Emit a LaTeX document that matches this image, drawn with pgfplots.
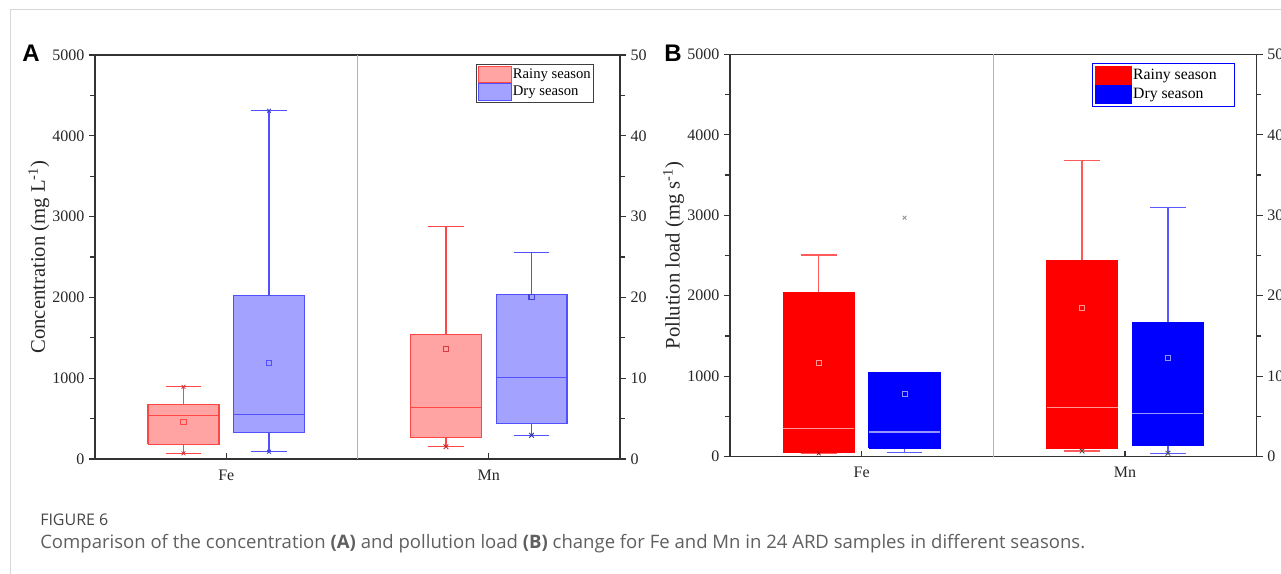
\documentclass[border=0pt]{standalone}
\usepackage{pgfplots}
\pgfplotsset{compat=1.18}
\usepackage{fontspec}
\setmainfont{Liberation Serif}
\newfontfamily\capfont{Open Sans}
\newfontfamily\letterfont{Liberation Sans}
\definecolor{rfillA}{RGB}{255,163,163}
\definecolor{rdrawA}{RGB}{255,70,70}
\definecolor{bfillA}{RGB}{163,163,255}
\definecolor{bdrawA}{RGB}{80,80,255}
\definecolor{rB}{RGB}{255,0,0}
\definecolor{bB}{RGB}{0,0,255}
\definecolor{rlightB}{RGB}{255,150,150}
\definecolor{blightB}{RGB}{150,150,255}
\definecolor{rwhB}{RGB}{255,90,90}
\definecolor{bwhB}{RGB}{90,90,255}
\definecolor{capgray}{RGB}{95,95,95}
\definecolor{figgray}{RGB}{70,70,70}
\definecolor{divgray}{RGB}{180,180,180}
\definecolor{framegray}{RGB}{215,215,215}
% whisker: x, capL, capR, from, to, style
\newcommand{\whisk}[6]{\addplot[#6] coordinates {(#1,#4) (#1,#5)};\addplot[#6] coordinates {(#2,#5) (#3,#5)};}
% box: L, R, q1, q3, style
\newcommand{\boxr}[5]{\addplot[#5] coordinates {(#1,#3) (#2,#3) (#2,#4) (#1,#4) (#1,#3)};}
% median: L, R, m, style
\newcommand{\medl}[4]{\addplot[#4] coordinates {(#1,#3) (#2,#3)};}
\pgfplotsset{
  panel/.style={
    scale only axis, anchor=south west,
    xmin=0.5, xmax=2.5, ymin=0,
    /pgf/number format/assume math mode=true,
    /pgf/number format/1000 sep={},
    scaled y ticks=false,
    tick label style={font=\fontsize{12}{13}\selectfont, text=black!85},
    axis line style={line width=1.1pt, black!80},
    major tick length=4.5pt, minor tick length=3.5pt,
    tick style={line width=1pt, black!80},
    minor y tick num=1,
    clip=false,
  },
  leftax/.style={panel, ymax=5000, ytick={0,1000,...,5000},
    ytick pos=left, xtick pos=bottom, xtick={1,2}, xticklabels={Fe,Mn},
    xtick align=inside, ytick align=outside,
    x tick label style={yshift=-4.5pt},
    every axis y label/.style={at={(axis description cs:-0.107,0.5)}, rotate=90, anchor=center,
      font=\fontsize{15.5}{17}\selectfont, text=black!85},
  },
  rightax/.style={panel, ymax=50, ytick={0,10,...,50}, xtick=\empty,
    axis y line*=right, axis x line=none, ytick align=outside,
    legend image code/.code={\draw[##1, line width=0.8pt] (0pt,-6.2pt) rectangle (24.75pt,6.2pt);},
    legend cell align=left,
    legend style={font=\fontsize{11}{12}\selectfont, anchor=north east,
      nodes={inner sep=0.9pt}, row sep=0pt, inner sep=1pt},
  },
  lA/.style={line width=0.9pt, line join=miter},
}
\begin{document}
\begin{tikzpicture}
\path[use as bounding box] (0pt,0pt) rectangle (960.75pt,430.5pt);
\draw[framegray, line width=0.75pt] (7.5pt,0pt) -- (7.5pt,423pt) -- (960.75pt,423pt);

% ---------------- Panel A ----------------
\begin{axis}[leftax, at={(71.25pt,86.25pt)}, width=393.75pt, height=303pt,
  ylabel={Concentration (mg L\textsuperscript{-1})}]
\draw[divgray, line width=1pt] (axis cs:1.5,0) -- (axis cs:1.5,5000);
% Fe rainy
\whisk{0.837}{0.7695}{0.9045}{679}{893}{lA, draw=rdrawA}
\whisk{0.837}{0.7695}{0.9045}{181}{70}{lA, draw=rdrawA}
\boxr{0.702}{0.972}{181}{679}{lA, draw=rdrawA, fill=rfillA}
\medl{0.702}{0.972}{540}{lA, draw=rdrawA}
% Fe dry
\whisk{1.163}{1.0955}{1.2305}{2025}{4310}{lA, draw=bdrawA}
\whisk{1.163}{1.0955}{1.2305}{325}{90}{lA, draw=bdrawA}
\boxr{1.028}{1.298}{325}{2025}{lA, draw=bdrawA, fill=bfillA}
\medl{1.028}{1.298}{547}{lA, draw=bdrawA}
\addplot[only marks, mark=square, mark size=1.9pt, draw=rdrawA, line width=0.7pt] coordinates {(0.837,453)};
\addplot[only marks, mark=square, mark size=1.9pt, draw=bdrawA, line width=0.7pt] coordinates {(1.163,1189)};
\addplot[only marks, mark=x, mark size=2pt, draw=rdrawA!80!black, line width=0.6pt] coordinates {(0.837,70) (0.837,893)};
\addplot[only marks, mark=x, mark size=2pt, draw=bdrawA!80!black, line width=0.6pt] coordinates {(1.163,90) (1.163,4310)};
\end{axis}
\begin{axis}[rightax, at={(71.25pt,86.25pt)}, width=393.75pt, height=303pt,
  legend style={at={(0.950,0.978)}, draw=black!75, line width=0.8pt}]
\addlegendimage{draw=rdrawA, fill=rfillA}
\addlegendentry{Rainy season}
\addlegendimage{draw=bdrawA, fill=bfillA}
\addlegendentry{Dry season}
% Mn rainy
\whisk{1.837}{1.7695}{1.9045}{15.4}{28.8}{lA, draw=rdrawA}
\whisk{1.837}{1.7695}{1.9045}{2.63}{1.52}{lA, draw=rdrawA}
\boxr{1.702}{1.972}{2.63}{15.4}{lA, draw=rdrawA, fill=rfillA}
\medl{1.702}{1.972}{6.38}{lA, draw=rdrawA}
% Mn dry
\whisk{2.163}{2.0955}{2.2305}{20.4}{25.6}{lA, draw=bdrawA}
\whisk{2.163}{2.0955}{2.2305}{4.4}{2.93}{lA, draw=bdrawA}
\boxr{2.028}{2.298}{4.4}{20.4}{lA, draw=bdrawA, fill=bfillA}
\medl{2.028}{2.298}{10.1}{lA, draw=bdrawA}
\addplot[only marks, mark=square, mark size=1.9pt, draw=rdrawA!85!black, line width=0.8pt] coordinates {(1.837,13.6)};
\addplot[only marks, mark=square, mark size=1.9pt, draw=bdrawA!85!black, line width=0.8pt] coordinates {(2.163,20.1)};
\addplot[only marks, mark=x, mark size=2.5pt, draw=rdrawA!70!black, line width=0.7pt] coordinates {(1.837,1.52)};
\addplot[only marks, mark=x, mark size=2.5pt, draw=bdrawA!70!black, line width=0.7pt] coordinates {(2.163,2.93)};
\end{axis}

% ---------------- Panel B ----------------
\begin{axis}[leftax, at={(547.5pt,87.975pt)}, width=395pt, height=301.8pt,
  ylabel={Pollution load (mg s\textsuperscript{-1})}]
\draw[divgray, line width=1pt] (axis cs:1.5,0) -- (axis cs:1.5,5000);
% Fe rainy
\whisk{0.837}{0.7695}{0.9045}{2037}{2506}{lA, draw=rwhB}
\whisk{0.837}{0.7695}{0.9045}{55}{42}{lA, draw=rwhB}
\boxr{0.702}{0.972}{55}{2037}{lA, draw=rB, fill=rB}
\medl{0.702}{0.972}{348}{lA, draw=rlightB}
% Fe dry
\whisk{1.163}{1.0955}{1.2305}{104}{50}{lA, draw=bwhB}
\boxr{1.028}{1.298}{104}{1040}{lA, draw=bB, fill=bB}
\medl{1.028}{1.298}{307}{lA, draw=blightB}
\addplot[only marks, mark=square, mark size=1.9pt, draw=rlightB, line width=0.7pt] coordinates {(0.837,1164)};
\addplot[only marks, mark=square, mark size=1.9pt, draw=blightB, line width=0.7pt] coordinates {(1.163,783)};
\addplot[only marks, mark=x, mark size=2pt, draw=black!45, line width=0.6pt] coordinates {(1.163,2970)};
\addplot[only marks, mark=x, mark size=2pt, draw=rB!60!black, line width=0.5pt] coordinates {(0.837,42)};
\end{axis}
\begin{axis}[rightax, at={(547.5pt,87.975pt)}, width=395pt, height=301.8pt,
  legend image code/.code={\draw[#1, line width=0.8pt] (0pt,-6.8pt) rectangle (27pt,6.8pt);},
  legend style={at={(0.959,0.978)}, draw=bB, line width=0.8pt, inner sep=1.5pt,
    font=\fontsize{11.8}{13}\selectfont}]
\addlegendimage{draw=rB, fill=rB}
\addlegendentry{Rainy season\hspace*{11pt}}
\addlegendimage{draw=bB, fill=bB}
\addlegendentry{Dry season}
% Mn rainy
\whisk{1.837}{1.7695}{1.9045}{24.4}{36.8}{lA, draw=rwhB}
\whisk{1.837}{1.7695}{1.9045}{1.0}{0.7}{lA, draw=rwhB}
\boxr{1.702}{1.972}{1.0}{24.4}{lA, draw=rB, fill=rB}
\medl{1.702}{1.972}{6.14}{lA, draw=rlightB}
% Mn dry
\whisk{2.163}{2.0955}{2.2305}{16.6}{31.0}{lA, draw=bwhB}
\whisk{2.163}{2.0955}{2.2305}{1.4}{0.42}{lA, draw=bwhB}
\boxr{2.028}{2.298}{1.4}{16.6}{lA, draw=bB, fill=bB}
\medl{2.028}{2.298}{5.34}{lA, draw=blightB}
\addplot[only marks, mark=square, mark size=1.9pt, draw=rlightB, line width=0.7pt] coordinates {(1.837,18.5)};
\addplot[only marks, mark=square, mark size=1.9pt, draw=blightB, line width=0.7pt] coordinates {(2.163,12.3)};
\addplot[only marks, mark=x, mark size=2.5pt, draw=black!70, line width=0.6pt] coordinates {(1.837,0.7) (2.163,0.42)};
\end{axis}

% ---------------- letters and caption ----------------
\node[anchor=base west, inner sep=0pt, font=\letterfont\bfseries\fontsize{18}{18}\selectfont] at (16.5pt,384pt) {A};
\node[anchor=base west, inner sep=0pt, font=\letterfont\bfseries\fontsize{18}{18}\selectfont] at (498pt,384pt) {B};
\node[anchor=base west, inner sep=0pt, text=figgray, font=\capfont\fontsize{12}{14}\selectfont] at (30pt,36pt) {FIGURE 6};
\node[anchor=base west, inner sep=0pt, text=capgray, font=\capfont\fontsize{13.9}{15}\selectfont] at (30pt,18.75pt)
  {Comparison of the concentration \textbf{(A)} and pollution load \textbf{(B)} change for Fe and Mn in 24 ARD samples in different seasons.};
\end{tikzpicture}
\end{document}
